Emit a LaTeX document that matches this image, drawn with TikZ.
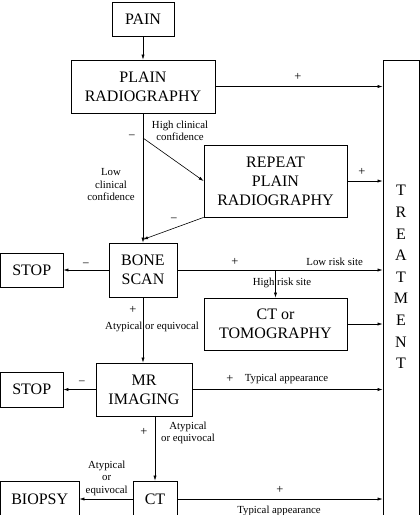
\documentclass[tikz,border=0pt]{standalone}
\usepackage{fontspec}
\setmainfont{Liberation Serif}
\usetikzlibrary{arrows.meta}
\begin{document}
\begin{tikzpicture}[x=1pt,y=-1pt,
  box/.style={draw, line width=0.8pt, inner sep=0pt, align=center, font=\fontsize{16}{19}\selectfont},
  lbl/.style={inner sep=0pt, align=center, font=\fontsize{10.8}{12.5}\selectfont},
  sgn/.style={inner sep=0pt, font=\fontsize{12.5}{13}\selectfont},
  con/.style={line width=0.6pt, -{Latex[length=5pt,width=3.2pt]}}]
\clip (0,0) rectangle (420,515);
\useasboundingbox (0,0) rectangle (420,515);
% boxes
\node[box, minimum width=62, minimum height=34] (pain) at (143,19) {PAIN};
\node[box, minimum width=144, minimum height=53] (pr) at (143,86.5) {PLAIN\\RADIOGRAPHY};
\node[box, minimum width=143, minimum height=72] (rp) at (275.5,181) {REPEAT\\PLAIN\\RADIOGRAPHY};
\node[box, minimum width=68, minimum height=54] (bs) at (143,270) {BONE\\SCAN};
\node[box, minimum width=62.5, minimum height=34] (stopa) at (31.75,270) {STOP};
\node[box, minimum width=143, minimum height=52] (ctt) at (275.5,324) {CT or\\TOMOGRAPHY};
\node[box, minimum width=96, minimum height=53] (mr) at (144,389.5) {MR\\IMAGING};
\node[box, minimum width=62.5, minimum height=35] (stopb) at (31.75,389.5) {STOP};
\node[box, minimum width=44, minimum height=36] (ct) at (155,499) {CT};
\node[box, minimum width=78.5, minimum height=36] (bio) at (39.75,499) {BIOPSY};
\node[draw, line width=0.8pt, minimum width=36, minimum height=480, inner sep=0pt] (tr) at (401,300) {};
\node[inner sep=0pt, align=center, font=\fontsize{16}{21.6}\selectfont] (trt) at (401,277) {T\\R\\E\\A\\T\\M\\E\\N\\T};
% plain radiography
\draw[con] (pain.south) -- (pr.north);
\draw[con] (pr.east) -- (pr.east -| tr.west);
\node[sgn] (p1) at (298,77) {+};
\coordinate (br1) at (143,138);
\draw[con] (pr.south) -- (bs.north);
\draw[con] (br1) -- (rp.west);
\node[sgn] (m1) at (132,137) {−};
\node[lbl] (hcc) at (180,131) {High clinical\\confidence};
\node[lbl] (lcc) at (111,185) {Low\\clinical\\confidence};
% repeat
\coordinate (bsin) at (143,239.5);
\draw[con] (rp.south west) -- (bsin);
\node[sgn] (m2) at (174,220) {−};
\draw[con] (rp.east) -- (rp.east -| tr.west);
\node[sgn] (p2) at (362,172) {+};
% bone scan
\draw[con] (bs.west) -- (stopa.east);
\node[sgn] (m3) at (86,265) {−};
\draw[con] (bs.east) -- (bs.east -| tr.west);
\node[sgn] (p3) at (235,262) {+};
\node[lbl, anchor=east] (lrs) at (363,262) {Low risk site};
\coordinate (br2) at (275.5,270);
\draw[con] (br2) -- (ctt.north);
\node[lbl] (hrs) at (282,283) {High risk site};
\draw[con] (ctt.east) -- (ctt.east -| tr.west);
\draw[con] (bs.south) -- (bs.south |- mr.north);
\node[sgn] (p4) at (133,310) {+};
\node[lbl] (aoe1) at (152,327) {Atypical or equivocal};
% MR
\draw[con] (mr.west) -- (stopb.east);
\node[sgn] (m4) at (82,383) {−};
\draw[con] (mr.east) -- (mr.east -| tr.west);
\node[sgn] (p5) at (230,379) {+};
\node[lbl] (ta1) at (286.5,379) {Typical appearance};
\draw[con] (mr.south -| ct.north) -- (ct.north);
\node[sgn] (p6) at (144,432) {+};
\node[lbl] (aoe2) at (188,433) {Atypical\\or equivocal};
% CT
\draw[con] (ct.west) -- (bio.east);
\node[lbl] (aoe3) at (106.7,478) {Atypical\\or\\equivocal};
\draw[con] (ct.east) -- (ct.east -| tr.west);
\node[sgn] (p7) at (280,490) {+};
\node[lbl] (ta2) at (279,511) {Typical appearance};
\end{tikzpicture}
\end{document}
